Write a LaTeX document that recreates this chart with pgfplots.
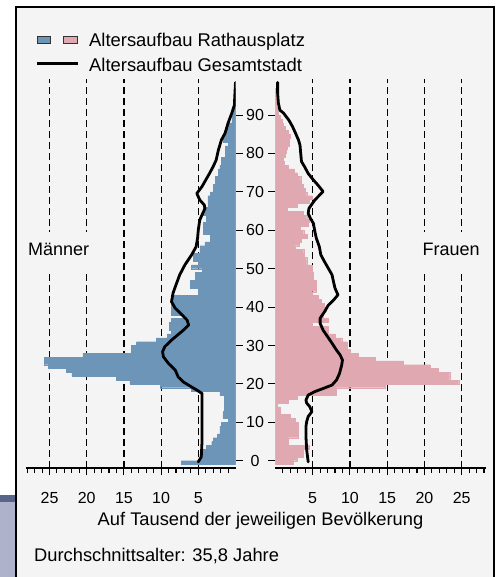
\documentclass[border=0pt]{standalone}
\usepackage{pgfplots}
\pgfplotsset{compat=1.18}
\usepackage{pgfplotstable}
\usepackage{fontspec}
\setmainfont{Liberation Sans}
\definecolor{blueC}{RGB}{108,149,184}
\definecolor{pinkC}{RGB}{224,168,176}
\definecolor{bgC}{RGB}{244,244,244}
\definecolor{slateC}{RGB}{88,100,136}
\definecolor{lavC}{RGB}{174,179,203}

\pgfplotstableread{
age m f
-0.5 7.3 2.4
0.5 4.7 2.9
1.5 4.7 3.7
2.5 4.4 3.7
3.5 3.9 4.5
4.5 3.2 1.7
5.5 3.0 1.7
6.5 2.4 3.1
7.5 2.1 3.1
8.5 2.1 3.1
9.5 1.9 3.1
10.5 1.0 2.6
11.5 1.7 2.0
12.5 1.6 0.6
13.5 1.5 0.6
14.5 1.5 0.2
15.5 1.5 1.7
16.5 1.5 2.9
17.5 2.1 8.2
18.5 5.9 8.2
19.5 10.1 14.7
20.5 14.2 24.6
21.5 16.0 23.4
22.5 22.0 23.4
23.5 22.7 21.9
24.5 25.2 20.8
25.5 25.7 17.2
26.5 25.7 13.4
27.5 20.5 11.1
28.5 14.0 10.0
29.5 14.0 9.6
30.5 13.3 9.6
31.5 10.6 8.9
32.5 9.2 8.0
33.5 8.6 7.1
34.5 8.9 7.1
35.5 8.9 4.9
36.5 8.6 7.1
37.5 6.6 6.4
38.5 8.6 6.4
39.5 8.6 6.8
40.5 8.6 6.6
41.5 8.5 6.2
42.5 8.5 5.8
43.5 5.0 4.9
44.5 5.0 5.5
45.5 6.1 5.5
46.5 6.1 5.5
47.5 5.4 5.1
48.5 5.4 5.1
49.5 4.5 4.9
50.5 5.9 4.9
51.5 5.0 4.2
52.5 5.7 4.2
53.5 5.7 3.9
54.5 4.8 3.8
55.5 4.8 2.6
56.5 4.1 3.2
57.5 3.4 3.5
58.5 3.4 4.3
59.5 4.3 3.8
60.5 4.3 3.3
61.5 4.3 4.4
62.5 3.9 4.5
63.5 3.9 4.2
64.5 4.3 3.7
65.5 4.3 1.6
66.5 3.7 2.9
67.5 3.7 4.5
68.5 3.7 4.9
69.5 3.4 4.2
70.5 3.0 4.0
71.5 3.0 3.7
72.5 2.75 3.5
73.5 2.75 3.4
74.5 2.3 2.9
75.5 2.3 2.5
76.5 2.1 1.7
77.5 1.9 1.2
78.5 1.9 1.1
79.5 1.4 1.3
80.5 1.4 1.5
81.5 1.4 1.6
82.5 1.0 1.8
83.5 1.6 1.8
84.5 1.6 2.0
85.5 1.3 1.7
86.5 1.3 1.3
87.5 1.0 1.0
88.5 0.5 0.9
89.5 0.5 0.6
90.5 0.3 0.4
91.5 0.15 0.3
92.5 0.1 0.1
93.5 0.1 0.1
94.5 0.1 0.1
95.5 0.1 0.1
96.5 0.1 0.1
}\bars

\pgfplotstableread{
age v
-0.3 5.0
1 4.6
5 4.5
10 4.5
15 4.5
17.5 4.5
18.4 5.2
19.2 5.9
20.5 7.0
21.8 7.7
23.6 8.1
25.3 9.0
27.1 9.7
28.4 9.8
29.7 9.5
31.4 8.6
32.7 7.8
34.0 7.0
35.3 6.3
36.6 6.5
38.0 7.2
39.7 8.1
41.4 8.6
43.6 8.4
45.8 8.0
48.4 7.5
51.0 6.8
53.6 5.9
55.7 5.3
57.9 5.1
60.1 5.0
62.7 4.8
64.0 4.5
65.7 4.1
66.6 4.2
67.9 4.8
69.6 5.2
71.4 4.5
73.1 4.0
74.8 3.5
76.6 3.0
78.3 2.6
80.9 2.3
83.5 1.9
85.3 1.4
87.9 1.0
90.5 0.5
92.6 0.15
94.8 0.1
98.5 0.0
}\mline

\pgfplotstableread{
age v
-0.3 4.4
2.8 4.2
6.3 4.1
8.9 4.1
10.2 4.2
11.5 4.4
12.8 4.9
14.1 4.6
15.0 4.2
15.8 4.1
17.1 4.4
18.0 5.3
18.8 6.4
19.7 7.6
21.0 8.2
22.7 8.6
24.9 8.9
26.2 9.0
27.5 8.7
28.8 8.2
30.6 7.6
32.3 7.0
34.0 6.4
35.8 6.0
37.1 6.0
38.8 6.6
40.5 7.1
41.8 7.8
43.2 8.4
44.9 8.0
46.6 7.8
48.4 7.6
50.1 7.1
51.8 6.6
53.6 6.1
55.7 5.9
57.9 5.5
59.6 5.3
61.8 5.1
63.1 4.7
64.4 4.4
65.7 4.5
67.9 5.3
70.1 6.4
71.8 5.7
73.1 5.1
74.8 4.4
76.6 3.9
77.9 3.5
80.0 3.4
82.2 3.3
83.5 3.1
85.3 2.7
87.0 2.3
88.7 1.8
90.5 1.1
91.3 0.6
93.1 0.4
95.7 0.3
98.5 0.3
}\fline

\pgfplotsset{
  pyr/.style={
    scale only axis,
    height=389.4bp,
    ymin=-1.9, ymax=99.5,
    ytick={0,10,...,90},
    axis x line*=bottom,
    x axis line style={-, line width=1.4bp},
    y axis line style={draw=none},
    tick align=outside,
    major tick length=7bp,
    minor tick length=5bp,
    tick style={black, line width=1.1bp},
    xmajorgrids=true,
    major grid style={black, line width=1.2bp, dash pattern=on 7bp off 4bp},
    /pgf/number format/assume math mode=true,
    ticklabel style={font=\fontsize{16bp}{18bp}\selectfont},
    xticklabel style={yshift=-14bp},
  }
}

\begin{document}
\begin{tikzpicture}
\path[use as bounding box] (0,0) rectangle (496bp,-577bp);
\fill[white] (0,0) rectangle (496bp,-577bp);
\fill[bgC] (16bp,-7bp) rectangle (494bp,-580bp);
\fill[slateC] (0,-495bp) rectangle (15bp,-502bp);
\fill[lavC] (0,-502bp) rectangle (15bp,-580bp);
\draw[line width=1.8bp] (16bp,-582bp) -- (16bp,-7bp) -- (494bp,-7bp) -- (494bp,-582bp);

\begin{axis}[pyr,
  at={(235.5bp,-468bp)}, anchor=south east, width=209.8bp,
  xmin=-28.2, xmax=0,
  xtick={-25,-20,-15,-10,-5}, xticklabels={25,20,15,10,5},
  minor xtick={-28,-27,...,-1},
  axis y line*=right,
  yticklabel style={anchor=center, xshift=12.5bp},
]
\addplot[xbar, bar width=1, bar shift=0pt, fill=blueC, draw=blueC, line width=0.3pt]
  table[x expr=-\thisrow{m}, y=age] {\bars};
\addplot[black, line width=2.8bp, line join=round, line cap=round]
  table[x expr=-\thisrow{v}, y=age] {\mline};
\end{axis}

\begin{axis}[pyr,
  at={(275.4bp,-468bp)}, anchor=south west, width=210.1bp,
  xmin=0, xmax=28.2,
  xtick={5,10,15,20,25},
  minor xtick={1,2,...,28},
  axis y line*=left,
  yticklabels={},
]
\addplot[xbar, bar width=1, bar shift=0pt, fill=pinkC, draw=pinkC, line width=0.3pt]
  table[x=f, y=age] {\bars};
\addplot[black, line width=2.8bp, line join=round, line cap=round]
  table[x=v, y=age] {\fline};
\end{axis}

% side labels
\fill[bgC] (26bp,-232bp) rectangle (90bp,-271bp);
\fill[bgC] (420bp,-232bp) rectangle (482bp,-271bp);
\node[anchor=base west, inner sep=0pt, font=\fontsize{18bp}{21bp}\selectfont] at (28bp,-255bp) {Männer};
\node[anchor=base west, inner sep=0pt, font=\fontsize{18bp}{21bp}\selectfont] at (422.5bp,-255bp) {Frauen};

% legend
\draw[fill=blueC, draw=black!80, line width=1bp] (37bp,-36.5bp) rectangle (50bp,-43bp);
\draw[fill=pinkC, draw=black!80, line width=1bp] (63.5bp,-36.5bp) rectangle (77bp,-43bp);
\draw[black, line width=3bp] (37bp,-63bp) -- (78bp,-63bp);
\node[anchor=base west, inner sep=0pt, font=\fontsize{18.4bp}{21bp}\selectfont] at (89bp,-46.7bp) {Altersaufbau Rathausplatz};
\node[anchor=base west, inner sep=0pt, font=\fontsize{18.4bp}{21bp}\selectfont] at (89bp,-71bp) {Altersaufbau Gesamtstadt};

% axis title and note
\node[anchor=base, inner sep=0pt, font=\fontsize{18.3bp}{21bp}\selectfont] at (260.5bp,-525bp) {Auf Tausend der jeweiligen Bevölkerung};
\node[anchor=base west, inner sep=0pt, font=\fontsize{18.3bp}{21bp}\selectfont] at (34bp,-561.5bp) {Durchschnittsalter: 35,8 Jahre};
\end{tikzpicture}
\end{document}
